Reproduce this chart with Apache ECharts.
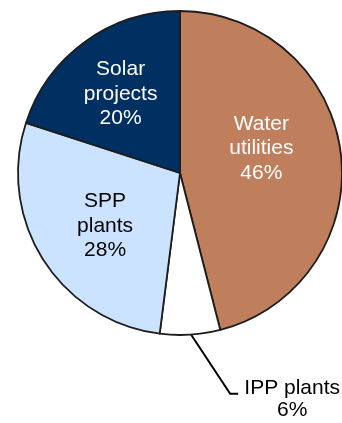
<!DOCTYPE html>
<html>
<head>
<meta charset="utf-8">
<script src="https://cdn.jsdelivr.net/npm/echarts@6/dist/echarts.min.js"></script>
<style>
html,body{margin:0;padding:0;background:#fff;}
#c{width:342px;height:423px;}
</style>
</head>
<body>
<div id="c"></div>
<script>
var categories = ['Water utilities', 'IPP plants', 'SPP plants', 'Solar projects'];
var labelLines = ['Water\nutilities', 'IPP plants', 'SPP\nplants', 'Solar\nprojects'];
var values = [46, 6, 28, 20];

var colors = ['#C07F5C', '#FFFFFF', '#CCE3FF', '#002F62'];
var textColors = ['#FFFFFF', '#000000', '#000000', '#FFFFFF'];
var labelOffsets = [[-2, -14], [0, 0], [-4, 8], [-10, -11]];

var chart = echarts.init(document.getElementById('c'), null, {renderer: 'canvas'});
var data = categories.map(function (c, i) {
  var outside = (i === 1);
  return {
    name: c,
    value: values[i],
    itemStyle: {color: colors[i]},
    label: {
      position: outside ? 'outside' : 'inside',
      color: textColors[i],
      offset: labelOffsets[i],
      lineHeight: outside ? 22 : 24.5
    },
    labelLine: {show: outside}
  };
});

chart.setOption({
  animation: false,
  series: [{
    type: 'pie',
    center: [180, 173],
    radius: 162,
    startAngle: 90,
    clockwise: true,
    avoidLabelOverlap: false,
    silent: true,
    itemStyle: {borderColor: '#1d1d1d', borderWidth: 1.8},
    label: {
      show: true,
      fontFamily: 'Liberation Sans, Arial, sans-serif',
      fontSize: 21,
      lineHeight: 24.5,
      align: 'center',
      formatter: function (p) {
        return labelLines[p.dataIndex] + '\n' + p.value + '%';
      }
    },
    labelLine: {
      show: false,
      length: 20,
      length2: 10,
      lineStyle: {color: '#000000', width: 2}
    },
    labelLayout: function (params) {
      if (params.dataIndex !== 1 || !params.labelLinePoints) return {};
      var p0 = params.labelLinePoints[0];
      return {
        x: p0[0] + 102,
        y: p0[1] + 65,
        align: 'center',
        verticalAlign: 'middle',
        labelLinePoints: [
          [p0[0] + 1, p0[1]],
          [p0[0] + 40, p0[1] + 59],
          [p0[0] + 48, p0[1] + 59]
        ]
      };
    },
    data: data
  }]
});
</script>
</body>
</html>
